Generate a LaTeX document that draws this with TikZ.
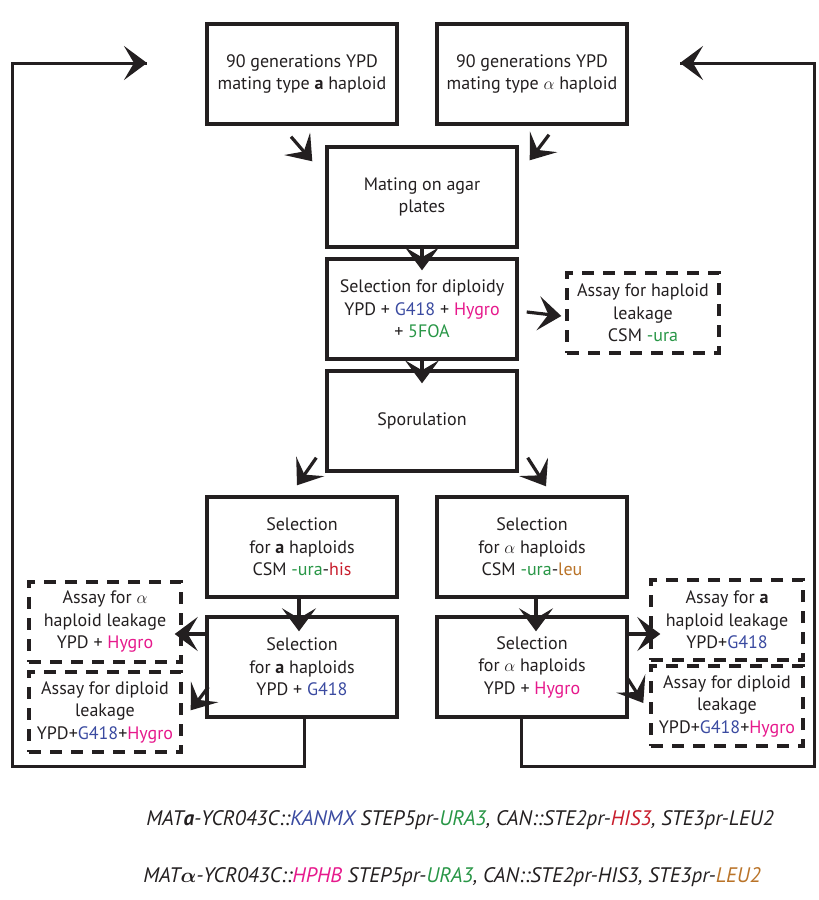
\documentclass[tikz,border=0pt]{standalone}
\usepackage{fontspec}
\setmainfont{PT Sans}
\usetikzlibrary{arrows.meta}
\definecolor{gBlue}{RGB}{58,74,160}
\definecolor{gMagenta}{RGB}{230,25,140}
\definecolor{gGreen}{RGB}{40,150,70}
\definecolor{gRed}{RGB}{200,30,45}
\definecolor{gBrown}{RGB}{185,115,40}
\definecolor{inkGray}{RGB}{35,31,32}

\begin{document}
\begin{tikzpicture}[x=1pt,y=-1pt,
  stepbox/.style={draw=inkGray,line width=3.4pt,minimum width=190pt,minimum height=100pt,
    inner sep=0pt,align=center,text=inkGray,font=\fontsize{18}{22.5}\selectfont},
  assaybox/.style={stepbox,dash pattern=on 12pt off 9pt,minimum width=152pt,minimum height=80pt},
  arr/.style={draw=inkGray,line width=3.2pt,-{Stealth[length=23pt,width=34pt,inset=10pt]}},
  loop/.style={draw=inkGray,line width=3pt,line join=miter}]
	\useasboundingbox (0,0) rectangle (819,900);
	% main column
	\node[stepbox] (topa) at (302,74) {90 generations YPD\\mating type \textbf{a} haploid};
	\node[stepbox] (topal) at (532,74) {90 generations YPD\\mating type $\alpha$ haploid};
	\node[stepbox] (mating) at (422,197) {Mating on agar\\plates};
	\node[stepbox] (diploid) at (422,309) {Selection for diploidy\\YPD + \textcolor{gBlue}{G418} + \textcolor{gMagenta}{Hygro}\\+ \textcolor{gGreen}{5FOA}};
	\node[assaybox] (leak) at (643,313) {Assay for haploid\\leakage\\CSM \textcolor{gGreen}{-ura}};
	\node[stepbox] (sporul) at (422,421) {Sporulation};
	% two branches
	\node[stepbox] (selaA) at (302,547) {Selection\\for \textbf{a} haploids\\CSM \textcolor{gGreen}{-ura}-\textcolor{gRed}{his}};
	\node[stepbox] (selalA) at (532,547) {Selection\\for $\alpha$ haploids\\CSM \textcolor{gGreen}{-ura}-\textcolor{gBrown}{leu}};
	\node[stepbox] (selaB) at (302,667) {Selection\\for \textbf{a} haploids\\YPD + \textcolor{gBlue}{G418}};
	\node[stepbox] (selalB) at (532,667) {Selection\\for $\alpha$ haploids\\YPD + \textcolor{gMagenta}{Hygro}};
	\node[assaybox] (leakal) at (105,622) {Assay for $\alpha$\\haploid leakage\\YPD + \textcolor{gMagenta}{Hygro}};
	\node[assaybox] (dipl) at (105,712) {Assay for diploid\\leakage\\YPD+\textcolor{gBlue}{G418}+\textcolor{gMagenta}{Hygro}};
	\node[assaybox] (leaka) at (727,620) {Assay for \textbf{a}\\haploid leakage\\YPD+\textcolor{gBlue}{G418}};
	\node[assaybox] (dipr) at (727,706) {Assay for diploid\\leakage\\YPD+\textcolor{gBlue}{G418}+\textcolor{gMagenta}{Hygro}};
	% arrows
	\draw[arr] ([xshift=-11pt,yshift=-11pt]topa.south) -- ([xshift=-13pt,yshift=-16pt]mating.north west);
	\draw[arr] ([xshift=17pt,yshift=-9pt]topal.south) -- ([xshift=11pt,yshift=-15pt]mating.north east);
	\draw[arr] (mating.south) -- ([yshift=-13pt]diploid.north);
	\draw[arr] (diploid.south) -- ([yshift=-14pt]sporul.north);
	\draw[arr] ([xshift=8pt,yshift=-3pt]diploid.east) -- ([xshift=-4pt,yshift=-3pt]leak.west);
	\draw[arr] ([xshift=-9pt,yshift=15pt]sporul.south west) -- ([xshift=-5pt,yshift=10pt]selaA.north);
	\draw[arr] ([xshift=9pt,yshift=15pt]sporul.south east) -- ([xshift=14pt,yshift=9pt]selalA.north);
	\draw[arr] ([xshift=-3pt]selaA.south) -- ([xshift=-3pt,yshift=-16pt]selaB.north);
	\draw[arr] ([xshift=4pt]selalA.south) -- ([xshift=4pt,yshift=-16pt]selalB.north);
	\draw[arr] ([yshift=33pt]selaB.west) -- ([xshift=-8pt,yshift=-12pt]leakal.east);
	\draw[arr] ([xshift=3pt,yshift=-20pt]selaB.west) -- ([xshift=8pt,yshift=-40pt]dipl.north east);
	\draw[arr] ([yshift=33pt]selalB.east) -- ([xshift=11pt,yshift=-14pt]leaka.west);
	\draw[arr] ([xshift=-2pt,yshift=-10pt]selalB.east) -- ([xshift=-6pt,yshift=3pt]dipr.west);
	% loops back to the top
	\coordinate (backa) at (147,63);
	\coordinate (backal) at (680,63);
	\draw[loop] ([xshift=2pt]selaB.south) -- ++(0,48) -| (12,63) -- (backa);
	\draw[arr,line width=3pt] (40,63) -- (backa);
	\draw[loop] ([xshift=-11pt]selalB.south) -- ++(0,48) -| (814,63) -- (backal);
	\draw[arr,line width=3pt] (780,63) -- (backal);
	% genotypes
	\node[text=inkGray,font=\fontsize{21}{24}\selectfont\itshape] (gena) at (460,820)
		{MAT\textbf{a}-YCR043C::\textcolor{gBlue}{KANMX} STEP5pr-\textcolor{gGreen}{URA3}, CAN::STE2pr-\textcolor{gRed}{HIS3}, STE3pr-LEU2};
	\node[text=inkGray,font=\fontsize{21}{24}\selectfont\itshape] (genal) at (452,877)
		{MAT{\boldmath$\alpha$}-YCR043C::\textcolor{gMagenta}{HPHB} STEP5pr-\textcolor{gGreen}{URA3}, CAN::STE2pr-HIS3, STE3pr-\textcolor{gBrown}{LEU2}};
\end{tikzpicture}
\end{document}
